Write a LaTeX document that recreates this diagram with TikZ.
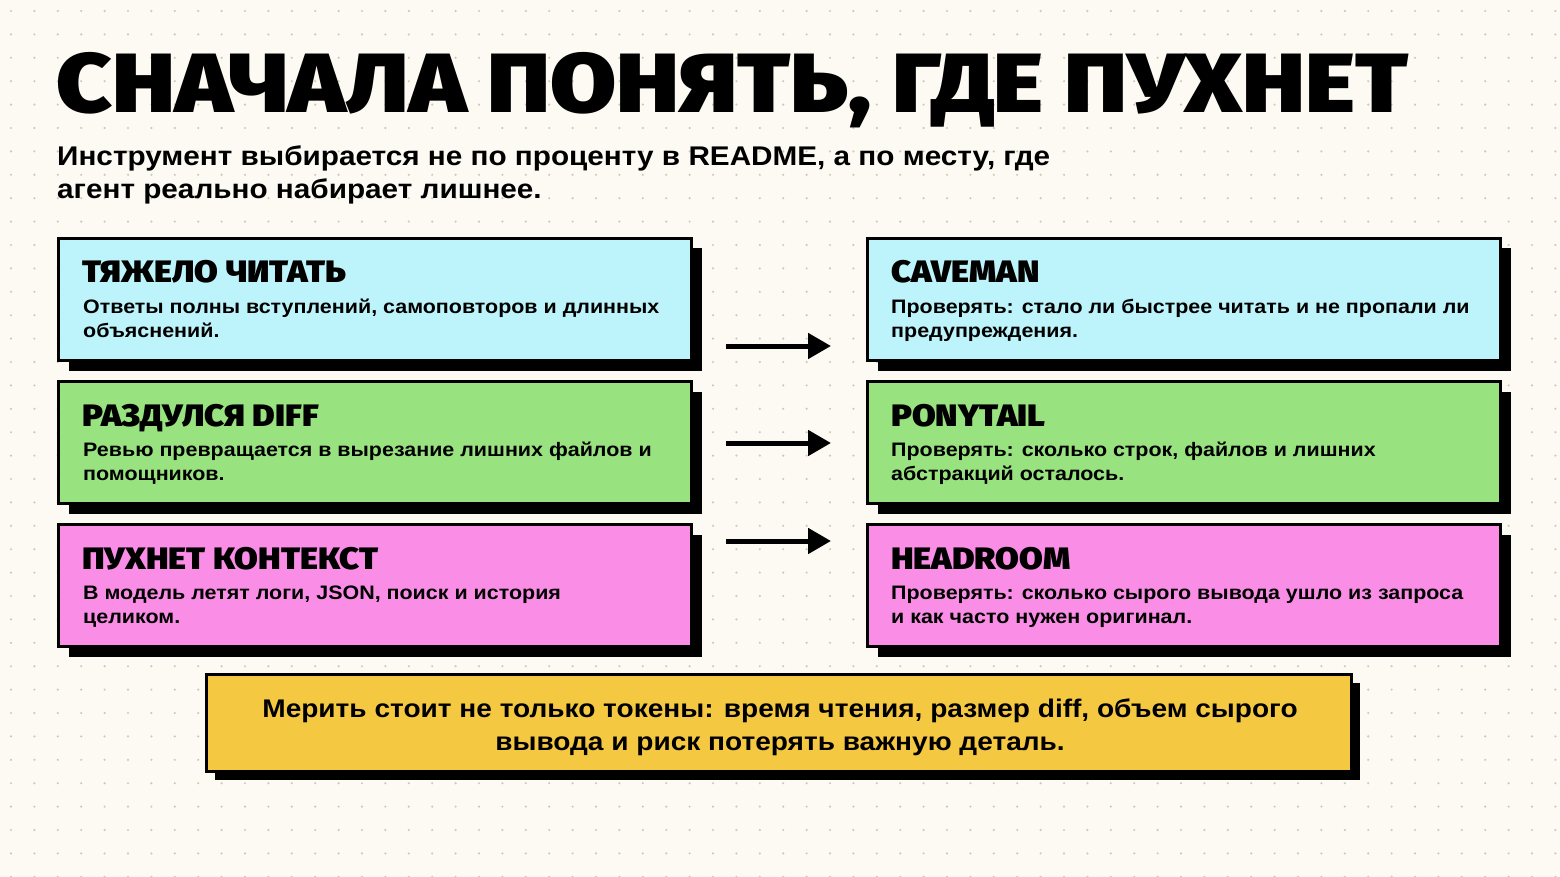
\documentclass[tikz,border=0pt]{standalone}
\usepackage{fontspec}
\setmainfont{Liberation Sans}[FakeStretch=1.1]
\newfontfamily\heavy{Fira Sans Black}[FakeStretch=1.11]
\newfontfamily\heavytitle{Fira Sans Black}[FakeStretch=1.14]
\usetikzlibrary{arrows.meta,shadows}
\definecolor{bg}{HTML}{FCFAF3}
\definecolor{dotc}{HTML}{CFC9B8}
\definecolor{cyanc}{HTML}{BDF4FB}
\definecolor{greenc}{HTML}{98E27F}
\definecolor{pinkc}{HTML}{FA8EE6}
\definecolor{yellowc}{HTML}{F5C842}
\tikzset{
  card/.style={draw=black, line width=3pt, anchor=north west, inner sep=0pt,
    minimum width=633pt, minimum height=122pt,
    drop shadow={shadow xshift=10pt, shadow yshift=-10pt, fill=black, opacity=1}},
  note/.style={draw=black, line width=3pt, anchor=north west, inner sep=0pt,
    minimum width=1145pt, minimum height=97pt,
    drop shadow={shadow xshift=8pt, shadow yshift=-8pt, fill=black, opacity=1}},
  head/.style={anchor=base west, inner sep=0pt, font=\heavy\fontsize{31}{33}\selectfont},
  body/.style={anchor=base west, inner sep=0pt, align=left, font=\bfseries\fontsize{19.5}{24}\selectfont},
  conn/.style={line width=5pt, -{Triangle[length=23pt,width=25pt]}}
}
\begin{document}
\begin{tikzpicture}[x=1pt,y=-1pt]
\useasboundingbox (0,0) rectangle (1560,877);
\fill[bg] (0,0) rectangle (1560,877);
\foreach \i in {0,...,66} {
  \foreach \j in {0,...,37} {
    \fill[dotc] (11+\i*23.4, 11+\j*23.4) circle (1.2pt);
  }
}
% title
\node[anchor=base west, inner sep=0pt, font=\heavytitle\fontsize{84}{90}\selectfont] (title) at (56,113) {СНАЧАЛА ПОНЯТЬ, ГДЕ ПУХНЕТ};
% subtitle (base = last line)
\node[anchor=base west, inner sep=0pt, align=left, font=\bfseries\fontsize{27}{33}\selectfont] (sub) at (57,199)
  {Инструмент выбирается не по проценту в README, а по месту, где\\агент реально набирает лишнее.};

% left cards
\node[card, fill=cyanc] (l1) at (57,237) {};
\node[card, fill=greenc] (l2) at (57,380) {};
\node[card, fill=pinkc] (l3) at (57,523) {};
% right cards
\node[card, fill=cyanc] (r1) at (866,237) {};
\node[card, fill=greenc] (r2) at (866,380) {};
\node[card, fill=pinkc] (r3) at (866,523) {};
% bottom note
\node[note, fill=yellowc] (n) at (205,673) {};

% texts (body base = last line)
\node[head] (l1h) at (82,283) {ТЯЖЕЛО ЧИТАТЬ};
\node[body] (l1b) at (83,337) {Ответы полны вступлений, самоповторов и длинных\\объяснений.};
\node[head] (l2h) at (82,426) {РАЗДУЛСЯ DIFF};
\node[body] (l2b) at (83,480) {Ревью превращается в вырезание лишних файлов и\\помощников.};
\node[head] (l3h) at (82,569) {ПУХНЕТ КОНТЕКСТ};
\node[body] (l3b) at (83,623) {В модель летят логи, JSON, поиск и история\\целиком.};

\node[head] (r1h) at (891,283) {CAVEMAN};
\node[body] (r1b) at (891,337) {Проверять: стало ли быстрее читать и не пропали ли\\предупреждения.};
\node[head] (r2h) at (891,426) {PONYTAIL};
\node[body] (r2b) at (891,480) {Проверять: сколько строк, файлов и лишних\\абстракций осталось.};
\node[head] (r3h) at (891,569) {HEADROOM};
\node[body] (r3b) at (891,623) {Проверять: сколько сырого вывода ушло из запроса\\и как часто нужен оригинал.};

\node[anchor=center, inner sep=0pt, align=center, font=\bfseries\fontsize{25.5}{33}\selectfont] (nt) at (780,727)
  {Мерить стоит не только токены: время чтения, размер diff, объем сырого\\вывода и риск потерять важную деталь.};

% arrows
\coordinate (a1s) at (726,346); \coordinate (a1e) at (831,346);
\coordinate (a2s) at (726,443); \coordinate (a2e) at (831,443);
\coordinate (a3s) at (726,541); \coordinate (a3e) at (831,541);
\draw[conn] (a1s) -- (a1e);
\draw[conn] (a2s) -- (a2e);
\draw[conn] (a3s) -- (a3e);
\end{tikzpicture}
\end{document}
